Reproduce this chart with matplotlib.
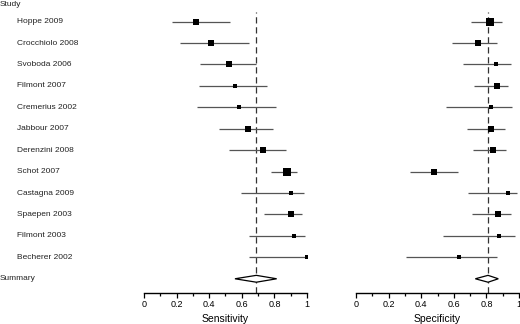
import matplotlib.pyplot as plt
import matplotlib.transforms as mtransforms
from matplotlib.patches import Polygon
import numpy as np

plt.rcParams['font.family'] = ['Liberation Sans', 'DejaVu Sans']

# Datos de los estudios
estudios = ['Hoppe 2009', 'Crocchiolo 2008', 'Svoboda 2006', 'Filmont 2007',
            'Cremerius 2002', 'Jabbour 2007', 'Derenzini 2008', 'Schot 2007',
            'Castagna 2009', 'Spaepen 2003', 'Filmont 2003', 'Becherer 2002']

sens = [0.32, 0.41, 0.52, 0.56, 0.58, 0.64, 0.73, 0.88, 0.90, 0.90, 0.92, 1.00]
sens_lo = [0.17, 0.22, 0.345, 0.337, 0.323, 0.46, 0.52, 0.777, 0.597, 0.738, 0.646, 0.646]
sens_hi = [0.528, 0.642, 0.689, 0.757, 0.808, 0.793, 0.869, 0.941, 0.982, 0.967, 0.986, 1.00]
sens_peso = [11.9, 7.9, 9.1, 6.2, 5.2, 9.1, 7.0, 19.4, 3.9, 11.2, 5.2, 3.9]
sens_resumen = [0.558, 0.689, 0.814]  # IC inferior, estimacion, IC superior

espe = [0.82, 0.751, 0.861, 0.863, 0.83, 0.83, 0.84, 0.481, 0.93, 0.869, 0.879, 0.632]
espe_lo = [0.708, 0.591, 0.654, 0.724, 0.552, 0.681, 0.716, 0.333, 0.687, 0.714, 0.532, 0.307]
espe_hi = [0.898, 0.863, 0.951, 0.935, 0.957, 0.914, 0.918, 0.624, 0.99, 0.949, 0.977, 0.863]
espe_peso = [14.3, 9.6, 5.9, 12.0, 4.3, 10.6, 10.6, 10.6, 5.0, 9.6, 3.7, 3.7]
espe_resumen = [0.732, 0.810, 0.873]

ticks = [0, 0.2, 0.4, 0.6, 0.8, 1]
tick_labels = ['0', '0.2', '0.4', '0.6', '0.8', '1']

fig = plt.figure(figsize=(5.2, 3.24), dpi=100)
ax1 = fig.add_axes([0.2769, 0.0966, 0.3135, 0.8664])
ax2 = fig.add_axes([0.6846, 0.0966, 0.3135, 0.8664])

filas = np.arange(len(estudios))
fila_resumen = len(estudios)


def dibujar_panel(ax, valores, lo, hi, peso, resumen, etiqueta):
    ax.axvline(resumen[1], color='#333333', lw=0.9, dashes=(5, 3), zorder=1)
    for i in range(len(valores)):
        ax.plot([lo[i], hi[i]], [filas[i], filas[i]], color='#555555', lw=0.9, zorder=2,
                solid_capstyle='butt')
        lado_px = 1.9 * np.sqrt(peso[i])
        ax.plot(valores[i], filas[i], marker='s', color='black',
                markersize=lado_px * 0.72, markeredgewidth=0, zorder=3)
    h = 0.16
    diamante = Polygon([[resumen[0], fila_resumen], [resumen[1], fila_resumen - h],
                        [resumen[2], fila_resumen], [resumen[1], fila_resumen + h]],
                       closed=True, facecolor='white', edgecolor='black', lw=0.9, zorder=4)
    ax.add_patch(diamante)
    ax.set_xlim(0, 1)
    ax.set_ylim(12.65, -0.45)
    for lado in ['top', 'left', 'right']:
        ax.spines[lado].set_visible(False)
    ax.spines['bottom'].set_linewidth(1.0)
    ax.set_yticks([])
    ax.set_xticks(ticks)
    ax.set_xticklabels(tick_labels, fontsize=6.5)
    ax.set_xticks([0.1, 0.3, 0.5, 0.7, 0.9], minor=True)
    ax.tick_params(axis='x', which='major', direction='out', length=3.5, width=0.9, pad=2)
    ax.tick_params(axis='x', which='minor', direction='out', length=2, width=0.9)
    ax.set_xlabel(etiqueta, fontsize=7.5, labelpad=3)
    ax.patch.set_alpha(0)


dibujar_panel(ax1, sens, sens_lo, sens_hi, sens_peso, sens_resumen, 'Sensitivity')
dibujar_panel(ax2, espe, espe_lo, espe_hi, espe_peso, espe_resumen, 'Specificity')

# Etiquetas de los estudios
trans = mtransforms.blended_transform_factory(fig.transFigure, ax1.transData)
for i, nombre in enumerate(estudios):
    ax1.text(0.033, filas[i], nombre, transform=trans, fontsize=6, va='center',
             ha='left', color='#222222')
ax1.text(0.0, fila_resumen, 'Summary', transform=trans, fontsize=6, va='center',
         ha='left', color='#222222')
fig.text(0.0, 1 - 4 / 324, 'Study', fontsize=6, va='center', ha='left', color='#222222')

plt.savefig('out.png', dpi=100)
